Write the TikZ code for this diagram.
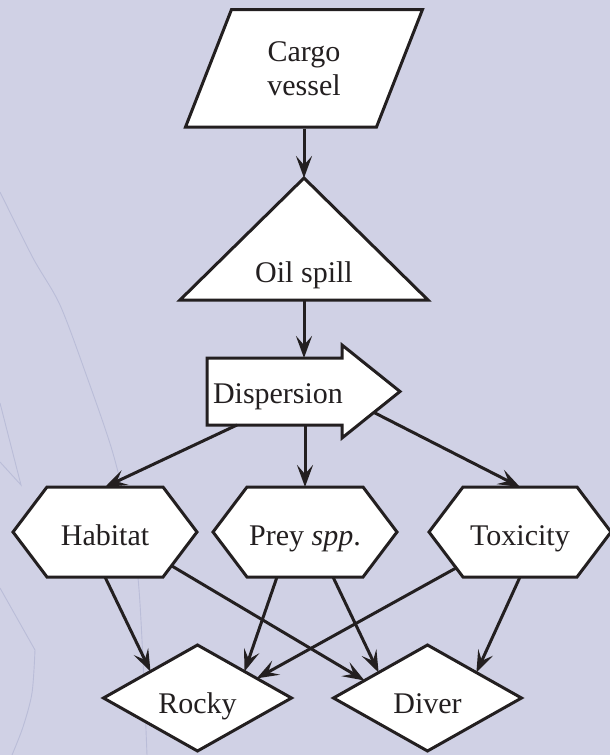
\documentclass[tikz,border=0pt]{standalone}
\usepackage{fontspec}
\setmainfont{Liberation Serif}
\usetikzlibrary{calc,arrows.meta}
\pgfdeclarelayer{bg}
\pgfdeclarelayer{shp}
\pgfsetlayers{bg,shp,main}
\definecolor{bgcol}{RGB}{208,209,229}
\definecolor{curvecol}{RGB}{186,189,216}
\definecolor{ink}{RGB}{35,31,32}
\tikzset{
  box/.style={inner sep=0pt, outer sep=0pt, font=\fontsize{30}{34}\selectfont, text=ink},
  outline/.style={draw=ink, fill=white, line width=3pt, line join=miter},
  conn/.style={draw=ink, line width=3pt, -{Stealth[length=22pt,width=16pt,inset=9pt]}},
  bgcurve/.style={draw=curvecol, line width=0.9pt},
  hexbox/.style={box, minimum width=184pt, text height=58pt, text depth=32pt},
  diabox/.style={box, minimum width=188pt, text height=68pt, text depth=38pt}
}
\begin{document}
\begin{tikzpicture}[x=1pt,y=-1pt]
\useasboundingbox (0,0) rectangle (610,755);

% nodes
\node[box, minimum width=237pt, minimum height=119pt, align=center] (cargo) at (304,69) {Cargo\\vessel};
\node[box, minimum width=248pt, text height=104pt, text depth=18pt] (oil) at (304,239) {Oil spill};
\node[box, text width=135pt, align=left, text height=45pt, text depth=22pt] (disp) at (274.5,391.5) {\hspace*{6pt}\mbox{Dispersion}};
\node[hexbox] (hab) at (105,532) {Habitat};
\node[hexbox] (prey) at (305,532) {Prey \textit{spp}.};
\node[hexbox, minimum width=182pt] (tox) at (520,532) {Toxicity};
\node[diabox] (rocky) at (197.5,698) {Rocky};
\node[diabox] (diver) at (427.5,698) {Diver};

\coordinate (disptip) at ($(disp.east)+(58,0)$);
\coordinate (dispbarb) at ($(disp.south east)+(0,13)$);

% background
\begin{pgfonlayer}{bg}
  \fill[bgcol] (0,0) rectangle (610,755);
  \draw[bgcurve] plot[smooth] coordinates {(0,192) (33,258) (60,305) (87,377) (112,450) (128,515) (138,578) (143,660) (147,755)};
  \draw[bgcurve] (0,403) -- (21,485) -- (0,462);
  \draw[bgcurve] (0,588) -- (35,650);
  \draw[bgcurve] plot[smooth] coordinates {(35,650) (32,693) (23,727) (12,755)};
\end{pgfonlayer}

% shapes
\begin{pgfonlayer}{shp}
  \draw[outline] ($(cargo.south west)+(0,-1.5)$) -- ($(cargo.north west)+(46,0)$) -- (cargo.north east) -- ($(cargo.south east)+(-46,-1.5)$) -- cycle;
  \draw[outline] (oil.south west) -- (oil.north) -- (oil.south east) -- cycle;
  \draw[outline] (disp.north west) -- (disp.north east) -- ($(disp.north east)+(0,-13)$) -- (disptip) -- (dispbarb) -- (disp.south east) -- (disp.south west) -- cycle;
  \foreach \n in {hab,prey,tox}{
    \draw[outline] (\n.west) -- ($(\n.north west)+(34,0)$) -- ($(\n.north east)+(-34,0)$) -- (\n.east) -- ($(\n.south east)+(-34,0)$) -- ($(\n.south west)+(34,0)$) -- cycle;
  }
  \foreach \n in {rocky,diver}{
    \draw[outline] (\n.west) -- (\n.north) -- (\n.east) -- (\n.south) -- cycle;
  }
\end{pgfonlayer}

% connectors
\draw[conn] (cargo.south) -- (oil.north);
\draw[conn] (oil.south) -- (oil.south |- disp.north);
\draw[conn] (disp.south -| prey.north) -- (prey.north);
\draw[conn] ($(disp.south west)+(30,0)$) -- (hab.north);
\draw[conn] ($(disptip)!0.45!(dispbarb)$) -- (tox.north);
\draw[conn] (hab.south) -- ($(rocky.west)!0.5!(rocky.north)$);
\draw[conn] ($(hab.east)!0.75!(hab.south east)+(-25.5,0)$) -- ($(diver.west)!0.33!(diver.north)$);
\draw[conn] ($(prey.south)+(-28,0)$) -- ($(rocky.north)!0.5!(rocky.east)$);
\draw[conn] ($(prey.south)+(28,0)$) -- ($(diver.west)!0.48!(diver.north)$);
\draw[conn] ($(tox.west)!0.8!(tox.south west)+(27,0)$) -- ($(rocky.north)!0.63!(rocky.east)$);
\draw[conn] (tox.south) -- ($(diver.north)!0.52!(diver.east)$);
\end{tikzpicture}
\end{document}
